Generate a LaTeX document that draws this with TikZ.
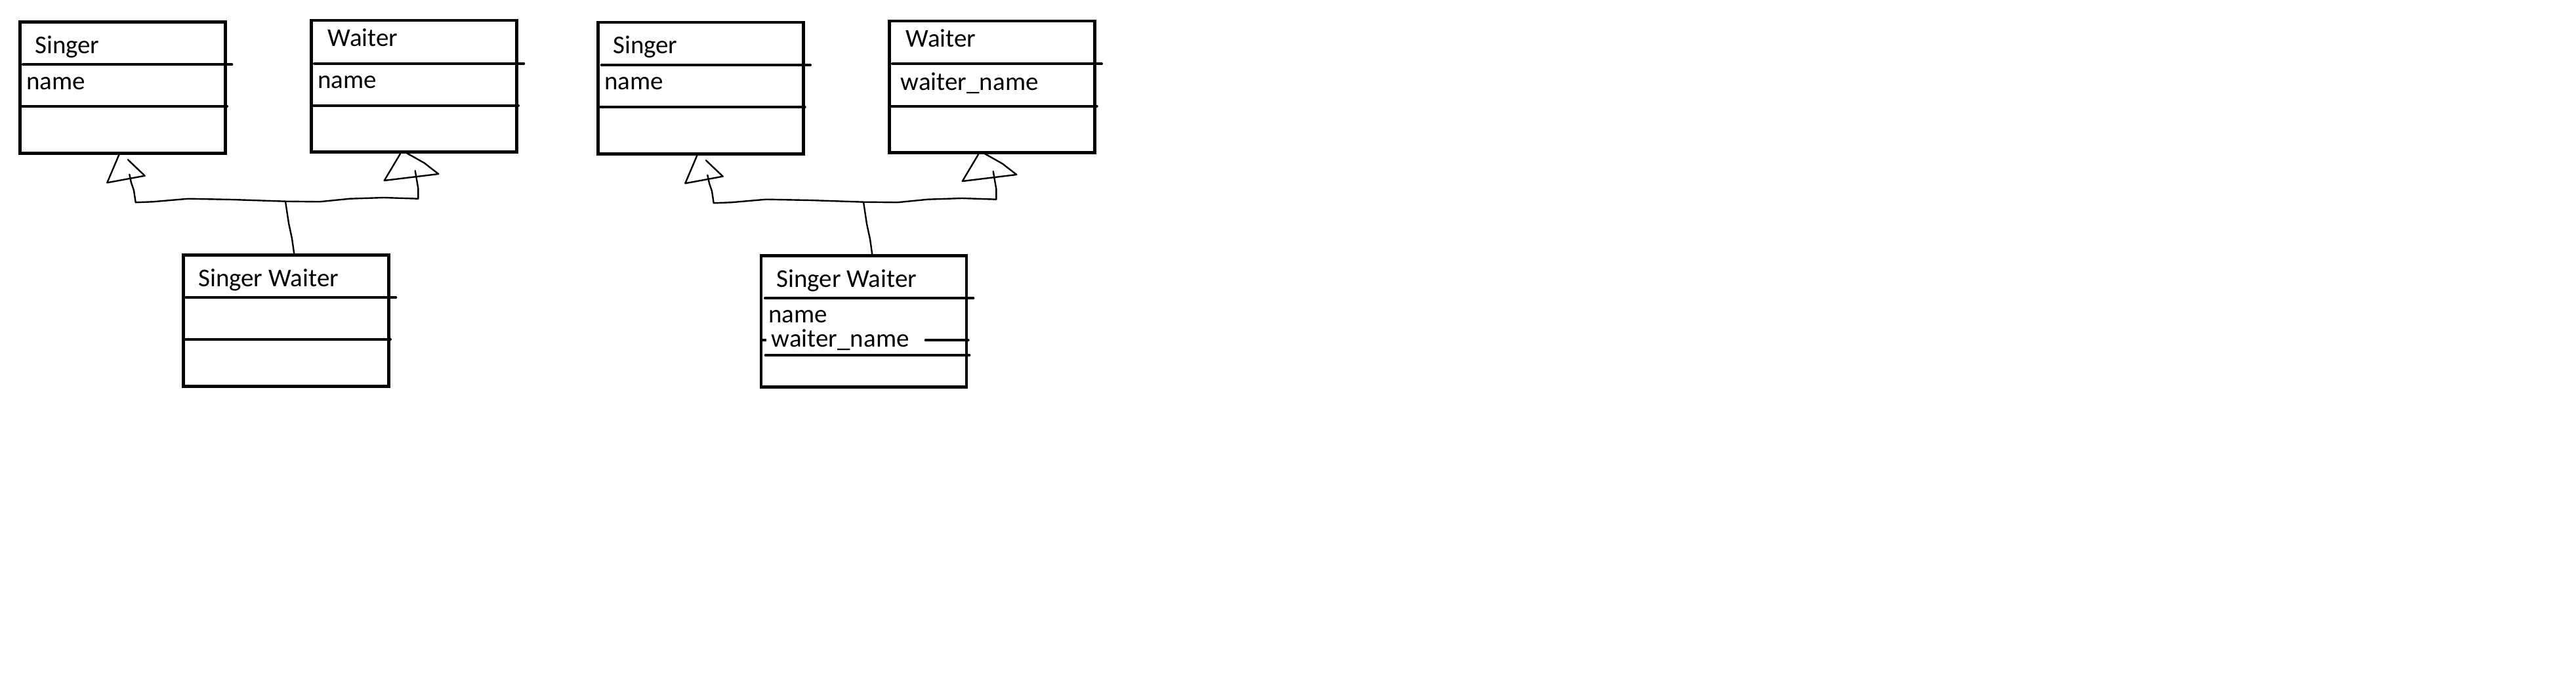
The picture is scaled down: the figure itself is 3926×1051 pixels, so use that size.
\documentclass[tikz,border=0pt]{standalone}
\usepackage{fontspec}
\setmainfont{Carlito}
\tikzset{
  classbox/.style={draw=black, line width=4.4pt, inner sep=0pt, minimum width=313pt, minimum height=200pt},
  sep/.style={draw=black, line width=4pt, line cap=round},
  link/.style={draw=black, line width=2.4pt, line join=round, line cap=round},
  lbl/.style={anchor=base west, inner sep=0pt, font=\fontsize{39pt}{47pt}\selectfont}
}
\newcommand\drawlinks[1]{%
  \coordinate (#1j) at (435,306.7);
  \coordinate (#1s) at (448.3,386.5);
  % open triangle under Singer
  \draw[link] (181.7,235) -- (163.3,278.3) -- (220.7,267.7) -- (195,243.3);
  % open triangle under Waiter
  \draw[link] (610,234.3) -- (585.7,275) -- (668.3,265) -- (646.7,248.3) -- (633.3,240.7) -- (620,233.3);
  % branch line
  \draw[link] (197.3,265.7) -- (200,278.3) -- (204,290) -- (206.7,308.3) -- (233.3,307.3)
     -- (286.7,302.7) -- (353.3,304) -- (#1j) -- (486.7,307.3) -- (533.3,302.7)
     -- (585,301) -- (637.3,302.7) -- (637.3,286.7) -- (635,273.3) -- (632.7,260);
  % stem
  \draw[link] (#1j) -- (440,340) -- (445,363.3) -- (#1s);
}
\begin{document}
\begin{tikzpicture}[x=1pt, y=-1pt]
\useasboundingbox (0,0) rectangle (3926,1051);
\fill[white] (0,0) rectangle (3926,1051);

% ---------- group 1 ----------
\node[classbox] (singerA) at (187,133.4) {};
\node[classbox] (waiterA) at (630.8,131.3) {};
\node[classbox] (swA) at (436,488.3) {};
\draw[sep] (35,98.3) -- (353.3,98.3);
\draw[sep] (30,162.3) -- (346,162.3);
\draw[sep] (479,96.7) -- (798.3,96.7);
\draw[sep] (474,160.7) -- (790,160.7);
\draw[sep] (283.3,453.3) -- (603.3,453.3);
\draw[sep] (279,516.7) -- (595,516.7);
\node[lbl] (tSingerA) at (53,81.7) {Singer};
\node[lbl] (aSingerA) at (40,137) {name};
\node[lbl] (tWaiterA) at (499.5,71) {Waiter};
\node[lbl] (aWaiterA) at (484,135) {name};
\node[lbl] (tswA) at (302,436) {Singer Waiter};
\drawlinks{A}

% ---------- group 2 ----------
\node[classbox] (singerB) at (1068,134.3) {};
\node[classbox] (waiterB) at (1512,132.3) {};
\node[classbox] (swB) at (1316.7,489.3) {};
\draw[sep] (916.7,99) -- (1235,99);
\draw[sep] (912,163.3) -- (1226.7,163.3);
\draw[sep] (1360,97.3) -- (1679,97.3);
\draw[sep] (1355,161.7) -- (1671.7,161.7);
\draw[sep] (1166,454.3) -- (1483.3,454.3);
\draw[sep, line cap=butt] (1162,518.3) -- (1167.5,518.3);
\draw[sep] (1410.7,518.3) -- (1475.7,518.3);
\draw[sep] (1166.7,541) -- (1477.3,541);
\node[lbl] (tSingerB) at (934,82) {Singer};
\node[lbl] (aSingerB) at (921,137) {name};
\node[lbl] (tWaiterB) at (1380.5,72) {Waiter};
\node[lbl] (aWaiterB) at (1372.5,138) {waiter\_name};
\node[lbl] (tswB) at (1183,437) {Singer Waiter};
\node[lbl] (a1swB) at (1171,491) {name};
\node[lbl] (a2swB) at (1175.5,528) {waiter\_name};
\begin{scope}[shift={(881,1)}]
  \drawlinks{B}
\end{scope}
\end{tikzpicture}
\end{document}
